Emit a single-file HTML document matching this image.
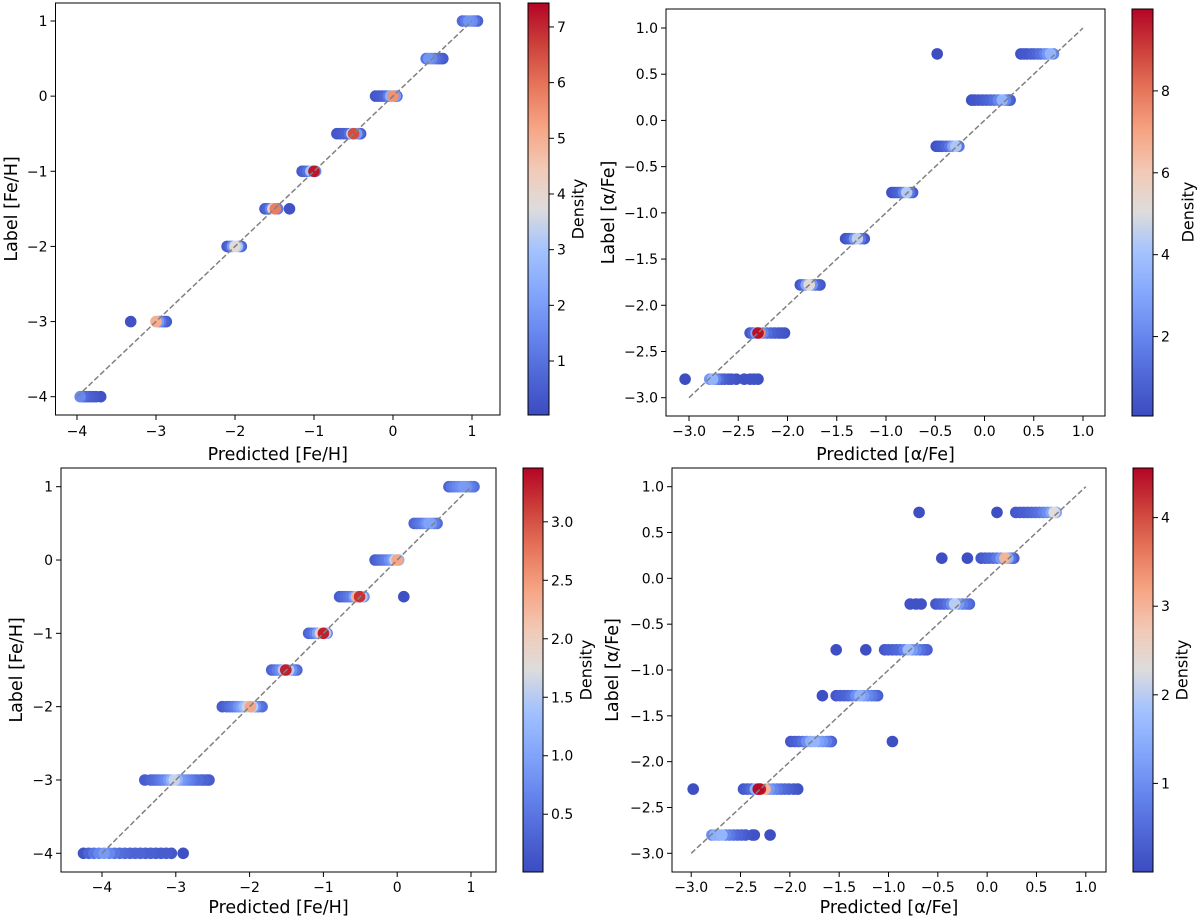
<!DOCTYPE html>
<html><head><meta charset="utf-8">
<style>
html,body{margin:0;padding:0;background:#fff;}
svg{display:block;font-family:"DejaVu Sans","Liberation Sans",sans-serif;}
</style></head>
<body>
<svg id="fig" width="1200" height="918" viewBox="0 0 1200 918" xmlns="http://www.w3.org/2000/svg"></svg>
<script>
// ---------- Data ----------
const p1Labels = [1, 0.5, 0, -0.5, -1, -1.5, -2, -3, -4];
const p1Pred = [
 [0.88,0.92,0.96,1.00,1.03,1.07],
 [0.42,0.45,0.49,0.53,0.57,0.60,0.63],
 [-0.22,-0.18,-0.14,-0.10,-0.06,-0.03,0.00,0.03,0.05],
 [-0.71,-0.67,-0.63,-0.59,-0.55,-0.52,-0.50,-0.46,-0.43,-0.41],
 [-1.15,-1.12,-1.08,-1.04,-1.00,-0.98],
 [-1.62,-1.59,-1.55,-1.52,-1.49,-1.46,-1.31],
 [-2.10,-2.06,-2.03,-2.00,-1.97,-1.94,-1.92],
 [-3.32,-3.00,-2.97,-2.94,-2.90,-2.87],
 [-3.96,-3.92,-3.88,-3.84,-3.80,-3.76,-3.70]
];
const p1Dens = [
 [0.8,1.2,1.8,1.6,1.0,0.6],
 [1.0,1.8,1.5,1.0,0.7,0.5,0.4],
 [0.3,0.4,0.5,0.7,1.2,2.5,5.5,2.0,0.8],
 [0.3,0.4,0.5,0.6,1.0,3.5,6.5,2.0,0.8,0.4],
 [0.4,0.6,1.0,3.0,7.2,1.5],
 [0.4,0.7,1.5,4.0,5.8,1.2,0.2],
 [0.4,0.8,2.0,3.8,3.0,1.0,0.5],
 [0.2,5.0,2.0,1.2,0.6,0.4],
 [1.5,0.8,0.6,0.5,0.4,0.3,0.2]
];

const p2Labels = [0.72, 0.22, -0.28, -0.78, -1.28, -1.78, -2.30, -2.80];
const p2Pred = [
 [-0.48,0.37,0.40,0.43,0.47,0.50,0.54,0.57,0.61,0.64,0.67,0.70],
 [-0.13,-0.10,-0.06,-0.02,0.02,0.06,0.10,0.14,0.18,0.21,0.24,0.26],
 [-0.49,-0.46,-0.43,-0.39,-0.35,-0.32,-0.29,-0.26],
 [-0.94,-0.91,-0.88,-0.85,-0.82,-0.79,-0.76,-0.73],
 [-1.41,-1.38,-1.35,-1.32,-1.29,-1.26,-1.22],
 [-1.87,-1.84,-1.81,-1.78,-1.75,-1.72,-1.69,-1.67],
 [-2.38,-2.35,-2.32,-2.30,-2.28,-2.25,-2.21,-2.17,-2.13,-2.09,-2.06,-2.03],
 [-3.04,-2.79,-2.76,-2.73,-2.70,-2.67,-2.64,-2.60,-2.57,-2.52,-2.44,-2.38,-2.34,-2.30]
];
const p2Dens = [
 [0.1,0.3,0.5,0.4,0.6,0.8,1.0,1.3,1.8,2.5,3.5,2.0],
 [0.3,0.4,0.5,0.6,0.8,1.0,1.3,2.0,3.5,2.0,1.0,0.5],
 [0.3,0.4,0.6,1.0,1.6,3.0,4.2,1.5],
 [0.3,0.5,0.7,1.0,2.0,4.3,1.5,0.6],
 [0.3,0.6,1.0,2.5,4.5,1.5,0.5],
 [0.4,1.0,3.0,5.2,2.5,1.0,0.6,0.4],
 [0.5,1.0,3.0,9.8,7.5,2.0,1.2,0.8,0.6,0.5,0.4,0.3],
 [0.1,2.5,3.5,2.0,1.2,0.8,0.6,0.5,0.4,0.3,0.3,0.3,0.3,0.2]
];

const p3Labels = [1, 0.5, 0, -0.5, -1, -1.5, -2, -3, -4];
const p3Pred = [
 [0.70,0.74,0.78,0.82,0.86,0.90,0.94,0.98,1.01,1.04],
 [0.23,0.27,0.31,0.35,0.39,0.43,0.46,0.50,0.54],
 [-0.30,-0.26,-0.22,-0.18,-0.14,-0.10,-0.06,-0.03,0.00,0.02],
 [-0.78,-0.74,-0.70,-0.66,-0.62,-0.58,-0.55,-0.51,-0.48,-0.45,0.09],
 [-1.20,-1.16,-1.12,-1.08,-1.04,-1.00,-0.97,-0.95],
 [-1.70,-1.66,-1.62,-1.58,-1.54,-1.51,-1.47,-1.43,-1.39,-1.36],
 [-2.37,-2.31,-2.27,-2.23,-2.19,-2.15,-2.11,-2.07,-2.03,-1.99,-1.96,-1.92,-1.88,-1.83],
 [-3.42,-3.34,-3.30,-3.26,-3.22,-3.18,-3.14,-3.10,-3.06,-3.02,-2.98,-2.94,-2.90,-2.86,-2.82,-2.78,-2.74,-2.70,-2.66,-2.62,-2.58,-2.55],
 [-4.25,-4.18,-4.11,-4.04,-3.97,-3.90,-3.83,-3.76,-3.69,-3.62,-3.55,-3.48,-3.41,-3.34,-3.27,-3.20,-3.13,-3.06,-2.90]
];
const p3Dens = [
 [0.3,0.5,0.6,0.7,0.8,0.9,0.8,0.6,0.5,0.4],
 [0.3,0.4,0.5,0.6,0.8,1.0,0.9,0.6,0.4],
 [0.2,0.3,0.4,0.5,0.6,0.8,1.0,1.6,2.4,1.2],
 [0.2,0.3,0.4,0.5,0.6,1.0,2.3,3.2,1.5,0.8,0.05],
 [0.3,0.4,0.6,1.0,2.0,3.3,1.5,0.6],
 [0.3,0.4,0.6,0.8,1.5,3.3,1.5,0.8,0.5,0.3],
 [0.2,0.3,0.4,0.5,0.6,0.8,1.0,1.3,1.6,2.4,1.5,0.8,0.5,0.4],
 [0.2,0.3,0.35,0.4,0.5,0.6,0.7,0.9,1.2,1.6,1.2,0.9,0.8,0.7,0.6,0.5,0.4,0.4,0.3,0.3,0.2,0.2],
 [0.1,0.3,0.5,0.7,0.9,0.7,0.5,0.4,0.35,0.3,0.3,0.3,0.25,0.25,0.2,0.2,0.2,0.15,0.05]
];

const p4Labels = [0.72, 0.22, -0.28, -0.78, -1.28, -1.78, -2.30, -2.80];
const p4Pred = [
 [-0.69,0.10,0.29,0.33,0.37,0.41,0.45,0.49,0.53,0.57,0.61,0.65,0.68,0.70],
 [-0.46,-0.20,-0.06,-0.02,0.02,0.06,0.10,0.14,0.18,0.21,0.24,0.27],
 [-0.78,-0.72,-0.67,-0.52,-0.48,-0.44,-0.40,-0.36,-0.33,-0.29,-0.25,-0.21,-0.18],
 [-1.53,-1.23,-1.04,-1.00,-0.96,-0.92,-0.88,-0.84,-0.80,-0.76,-0.72,-0.68,-0.64,-0.61],
 [-1.67,-1.53,-1.49,-1.45,-1.41,-1.37,-1.33,-1.29,-1.25,-1.21,-1.17,-1.14,-1.11],
 [-0.96,-1.99,-1.95,-1.91,-1.87,-1.83,-1.79,-1.75,-1.71,-1.67,-1.63,-1.60,-1.58],
 [-2.98,-2.47,-2.43,-2.39,-2.35,-2.32,-2.30,-2.25,-2.21,-2.17,-2.13,-2.09,-2.05,-2.01,-1.96,-1.92],
 [-2.20,-2.79,-2.76,-2.72,-2.69,-2.65,-2.61,-2.57,-2.53,-2.49,-2.45,-2.38,-2.36]
];
const p4Dens = [
 [0.05,0.05,0.2,0.25,0.3,0.35,0.4,0.5,0.6,0.8,1.0,1.4,2.3,1.3],
 [0.05,0.05,0.2,0.3,0.4,0.5,0.7,1.2,3.0,1.5,0.6,0.3],
 [0.1,0.1,0.1,0.2,0.3,0.4,0.6,1.0,2.0,1.2,0.8,0.6,0.4],
 [0.05,0.05,0.2,0.3,0.35,0.4,0.5,0.8,1.7,1.2,0.9,0.6,0.4,0.3],
 [0.05,0.2,0.3,0.35,0.4,0.6,1.0,1.5,1.2,0.9,0.7,0.5,0.3],
 [0.05,0.2,0.3,0.4,0.6,1.0,1.5,1.6,1.3,1.1,0.8,0.5,0.3],
 [0.05,0.2,0.3,0.5,1.5,4.5,4.4,3.0,1.2,0.9,0.7,0.5,0.4,0.3,0.2,0.1],
 [0.05,1.0,1.5,1.3,1.6,0.9,0.7,0.5,0.4,0.3,0.2,0.1,0.1]
];

const feTicks = [-4,-3,-2,-1,0,1];
const alphaTicks = [-3.0,-2.5,-2.0,-1.5,-1.0,-0.5,0.0,0.5,1.0];
const cb1Ticks = [1,2,3,4,5,6,7];
const cb2Ticks = [2,4,6,8];
const cb3Ticks = [0.5,1.0,1.5,2.0,2.5,3.0];
const cb4Ticks = [1,2,3,4];

// ---------- Rendering ----------
const NS = "http://www.w3.org/2000/svg";
const svg = document.getElementById('fig');
function mk(tag, attrs, parent){
  const e = document.createElementNS(NS, tag);
  for (const k in attrs) e.setAttribute(k, attrs[k]);
  (parent||svg).appendChild(e);
  return e;
}
const stops = [
 [0.0,[59,76,192]],[0.1,[80,104,216]],[0.2,[103,136,238]],[0.3,[132,167,252]],
 [0.4,[163,194,254]],[0.5,[221,220,220]],[0.6,[242,201,182]],[0.7,[246,164,131]],
 [0.8,[230,117,90]],[0.9,[204,64,58]],[1.0,[180,4,38]]
];
function cmap(t){
  t = Math.max(0, Math.min(1, t));
  for (let i=1;i<stops.length;i++){
    if (t <= stops[i][0]){
      const a=stops[i-1], b=stops[i], f=(t-a[0])/(b[0]-a[0]);
      const c=a[1].map((v,j)=>Math.round(v+(b[1][j]-v)*f));
      return `rgb(${c[0]},${c[1]},${c[2]})`;
    }
  }
  return 'rgb(180,4,38)';
}
function fmtTick(v, dec){
  const s = Math.abs(v).toFixed(dec);
  return (v < 0 ? '\u2212' : '') + s;
}

const panels = [
 {id:'p1', L:55.5,R:500,T:3,B:415, x0v:-4,x0p:77,x1v:1,x1p:472, y0v:1,y0p:21,y1v:-4,y1p:396.7,
  xt:feTicks, yt:feTicks, dec:0, line:[-4,1], labels:p1Labels, pred:p1Pred, dens:p1Dens,
  cb:{L:528,R:549,T:3,B:415,min:0.03,max:7.43,ticks:cb1Ticks,dec:0, lx:579, ly:209},
  xlab:'Predicted [Fe/H]', ylab:'Label [Fe/H]', xlabY:460, tickY:436, ylabX:12},
 {id:'p2', L:666,R:1105,T:9,B:416, x0v:-3,x0p:689,x1v:1,x1p:1083, y0v:1,y0p:28,y1v:-3,y1p:397.7,
  xt:alphaTicks, yt:alphaTicks, dec:1, line:[-3,1], labels:p2Labels, pred:p2Pred, dens:p2Dens,
  cb:{L:1132,R:1153,T:9,B:416,min:0.06,max:10.0,ticks:cb2Ticks,dec:0, lx:1189, ly:212},
  xlab:'Predicted [\u03b1/Fe]', ylab:'Label [\u03b1/Fe]', xlabY:460, tickY:436, ylabX:609},
 {id:'p3', L:61,R:496,T:468,B:872, x0v:-4,x0p:102,x1v:1,x1p:471, y0v:1,y0p:486.7,y1v:-4,y1p:853.3,
  xt:feTicks, yt:feTicks, dec:0, line:[-4,1], labels:p3Labels, pred:p3Pred, dens:p3Dens,
  cb:{L:523,R:543,T:468,B:872,min:0.006,max:3.46,ticks:cb3Ticks,dec:1, lx:587, ly:670},
  xlab:'Predicted [Fe/H]', ylab:'Label [Fe/H]', xlabY:913, tickY:892, ylabX:17},
 {id:'p4', L:672,R:1106,T:468,B:872, x0v:-3,x0p:691.2,x1v:1,x1p:1085.8, y0v:1,y0p:486.7,y1v:-3,y1p:853.3,
  xt:alphaTicks, yt:alphaTicks, dec:1, line:[-3,1], labels:p4Labels, pred:p4Pred, dens:p4Dens,
  cb:{L:1133,R:1153,T:468,B:872,min:0.0,max:4.56,ticks:cb4Ticks,dec:0, lx:1183, ly:670},
  xlab:'Predicted [\u03b1/Fe]', ylab:'Label [\u03b1/Fe]', xlabY:913, tickY:892, ylabX:613}
];

const defs = mk('defs', {});
panels.forEach((P, pi) => {
  const X = v => P.x0p + (v - P.x0v) * (P.x1p - P.x0p) / (P.x1v - P.x0v);
  const Y = v => P.y0p + (v - P.y0v) * (P.y1p - P.y0p) / (P.y1v - P.y0v);
  const g = mk('g', {});
  
  

  const clipId = 'clip' + pi;
  const cp = mk('clipPath', {id: clipId}, defs);
  mk('rect', {x:P.L, y:P.T, width:P.R-P.L, height:P.B-P.T}, cp);

  const pts = [];
  P.labels.forEach((lab, i) => {
    P.pred[i].forEach((xv, j) => pts.push([xv, lab, P.dens[i][j]]));
  });
  pts.sort((a,b) => a[2]-b[2]);
  const pg = mk('g', {'clip-path':`url(#${clipId})`}, g);
  
  
  pts.forEach(p => {
    const t = (p[2] - P.cb.min) / (P.cb.max - P.cb.min);
    const c = mk('circle', {cx:X(p[0]).toFixed(1), cy:Y(p[1]).toFixed(1), r:5.8, fill:cmap(t)}, pg);
    
    
  });

  const ln = mk('line', {x1:X(P.line[0]), y1:Y(P.line[0]), x2:X(P.line[1]), y2:Y(P.line[1]),
    stroke:'#808080', 'stroke-width':1.5, 'stroke-dasharray':'5.5,2.5'}, g);
  
  

  const fr = mk('rect', {x:P.L, y:P.T, width:P.R-P.L, height:P.B-P.T, fill:'none', stroke:'#000', 'stroke-width':1}, g);
  
  

  P.xt.forEach(v => {
    const x = X(v);
    mk('line', {x1:x, y1:P.B, x2:x, y2:P.B+5, stroke:'#000', 'stroke-width':1}, g);
    const t = mk('text', {x:x, y:P.tickY, 'font-size':14, 'text-anchor':'middle', fill:'#000'}, g);
    t.textContent = fmtTick(v, P.dec);
    
    
  });
  P.yt.forEach(v => {
    const y = Y(v);
    mk('line', {x1:P.L-5, y1:y, x2:P.L, y2:y, stroke:'#000', 'stroke-width':1}, g);
    const t = mk('text', {x:P.L-8, y:y+5, 'font-size':14, 'text-anchor':'end', fill:'#000'}, g);
    t.textContent = fmtTick(v, P.dec);
    
    
  });
  const xl = mk('text', {x:(P.L+P.R)/2, y:P.xlabY, 'font-size':17.5, 'text-anchor':'middle', fill:'#000'}, g);
  xl.textContent = P.xlab;
  
  
  const yc = (P.T+P.B)/2;
  const yl = mk('text', {x:P.ylabX, y:yc, 'font-size':17.5, 'text-anchor':'middle', fill:'#000',
    transform:`rotate(-90 ${P.ylabX} ${yc})`, 'dominant-baseline':'middle'}, g);
  yl.textContent = P.ylab;
  
  

  const C = P.cb;
  const gid = 'grad' + pi;
  const lg = mk('linearGradient', {id:gid, x1:0, y1:1, x2:0, y2:0}, defs);
  for (let k=0;k<=20;k++){ mk('stop', {offset:(k/20), 'stop-color':cmap(k/20)}, lg); }
  const cbr = mk('rect', {x:C.L, y:C.T, width:C.R-C.L, height:C.B-C.T, fill:`url(#${gid})`, stroke:'#000', 'stroke-width':1}, g);
  
  
  const CY = v => C.B - (v - C.min) / (C.max - C.min) * (C.B - C.T);
  C.ticks.forEach(v => {
    const y = CY(v);
    mk('line', {x1:C.R, y1:y, x2:C.R+5, y2:y, stroke:'#000', 'stroke-width':1}, g);
    const t = mk('text', {x:C.R+8, y:y+5, 'font-size':14, fill:'#000'}, g);
    t.textContent = v.toFixed(C.dec);
    
    
  });
  const dl = mk('text', {x:C.lx, y:C.ly, 'font-size':16, 'text-anchor':'middle', fill:'#000',
    transform:`rotate(-90 ${C.lx} ${C.ly})`, 'dominant-baseline':'middle'}, g);
  dl.textContent = 'Density';
  
  
});
</script>
</body></html>
